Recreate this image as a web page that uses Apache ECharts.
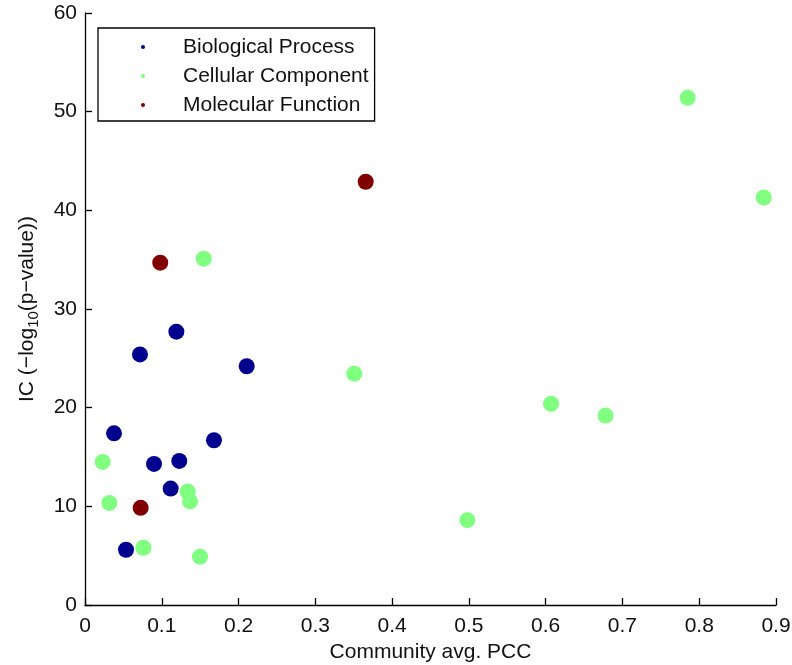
<!DOCTYPE html>
<html>
<head>
<meta charset="utf-8">
<script src="https://cdn.jsdelivr.net/npm/echarts@6/dist/echarts.min.js"></script>
<style>
  html, body { margin: 0; padding: 0; background: #fff; }
  #main { width: 792px; height: 665px; }
</style>
</head>
<body>
<div id="main"></div>
<script>
// values
var seriesNames = ['Biological Process', 'Cellular Component', 'Molecular Function'];
var seriesColors = ['#00008f', '#80ff80', '#800000'];

var bpX = [0.119, 0.0716, 0.2106, 0.0378, 0.168, 0.0899, 0.1228, 0.1116, 0.0534];
var bpY = [27.7, 25.4, 24.2, 17.4, 16.7, 14.3, 14.6, 11.8, 5.6];

var ccX = [0.023, 0.1338, 0.1368, 0.0317, 0.076, 0.1498, 0.1546, 0.3507, 0.498, 0.607, 0.678, 0.785, 0.884];
var ccY = [14.5, 11.5, 10.5, 10.35, 5.8, 4.9, 35.1, 23.45, 8.6, 20.4, 19.2, 51.4, 41.3];

var mfX = [0.0725, 0.098, 0.3656];
var mfY = [9.85, 34.7, 42.9];

var xs = [bpX, ccX, mfX];
var ys = [bpY, ccY, mfY];

var font = 'Liberation Sans, Arial, sans-serif';

var chartDom = document.getElementById('main');
var myChart = echarts.init(chartDom);

var series = seriesNames.map(function (name, i) {
  return {
    name: name,
    type: 'scatter',
    symbol: 'circle',
    symbolSize: 16,
    itemStyle: { color: seriesColors[i], opacity: 1 },
    data: xs[i].map(function (x, j) { return [x, ys[i][j]]; })
  };
});

var option = {
  animation: false,
  backgroundColor: '#fff',
  grid: { left: 85, right: 16, top: 13, bottom: 60, outerBoundsMode: 'none' },
  legend: {
    orient: 'vertical',
    left: 98,
    top: 28,
    data: seriesNames,
    icon: 'circle',
    itemWidth: 70,
    itemHeight: 4,
    itemGap: 7,
    padding: [8, 6, 5, 43],
    borderColor: '#000',
    borderWidth: 1.3,
    backgroundColor: '#fff',
    textStyle: { fontFamily: font, fontSize: 21, color: '#111', lineHeight: 22 }
  },
  xAxis: {
    type: 'value',
    min: 0,
    max: 0.9,
    interval: 0.1,
    name: 'Community avg. PCC',
    nameLocation: 'middle',
    nameGap: 37,
    nameTextStyle: { fontFamily: font, fontSize: 21, color: '#111' },
    splitLine: { show: false },
    axisLine: { lineStyle: { color: '#000', width: 1.3 } },
    axisTick: { inside: true, length: 7, lineStyle: { color: '#000', width: 1.3 } },
    axisLabel: { fontFamily: font, fontSize: 21, color: '#111', margin: 11 }
  },
  yAxis: {
    type: 'value',
    min: 0,
    max: 60,
    interval: 10,
    name: '{a|IC (−log}{s|10}{a|(p−value))}',
    nameLocation: 'middle',
    nameRotate: 90,
    nameGap: 44,
    nameTextStyle: {
      fontFamily: font,
      fontSize: 21,
      color: '#111',
      rich: {
        a: { fontFamily: font, fontSize: 21, color: '#111' },
        s: { fontFamily: font, fontSize: 15, color: '#111', padding: [12, 0, 0, 0] }
      }
    },
    splitLine: { show: false },
    axisLine: { lineStyle: { color: '#000', width: 1.3 } },
    axisTick: { inside: true, length: 7, lineStyle: { color: '#000', width: 1.3 } },
    axisLabel: { fontFamily: font, fontSize: 21, color: '#111', margin: 8 }
  },
  series: series
};

myChart.setOption(option);
</script>
</body>
</html>
